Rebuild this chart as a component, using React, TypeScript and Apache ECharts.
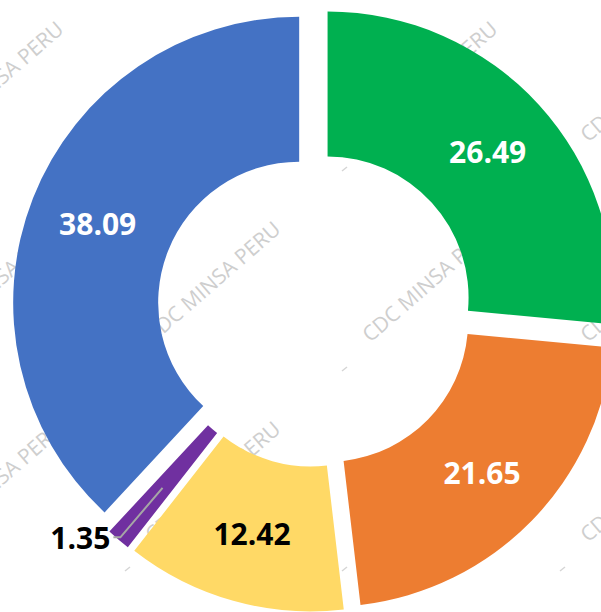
import React, { useEffect, useRef } from "react";
import * as echarts from "echarts";

const categories = ["Grupo A", "Grupo B", "Grupo C", "Grupo D", "Grupo E"];
const values = [26.49, 21.65, 12.42, 1.35, 38.09];
const colors = ["#00B050", "#ED7D31", "#FFD966", "#7030A0", "#4472C4"];
const labelColors = ["#ffffff", "#ffffff", "#000000", "#000000", "#ffffff"];
const outsideLabel = [false, false, false, true, false];
const watermarkText = "CDC MINSA PERU";

const CX = 315;
const CY = 309;
const R_IN = 141;
const R_OUT = 286;
const R_GUIDE = 218;
const OFFSET = 17;

export default function App() {
  const ref = useRef<HTMLDivElement>(null);
  useEffect(() => {
    if (!ref.current) return;
    const chart = echarts.init(ref.current, null, { renderer: "svg" });

    const wmStartsX = [-62, 155, 372, 590];
    const wmStartsY = [145, 345, 545];
    const wm: any[] = [];
    wmStartsY.forEach((y) => {
      wmStartsX.forEach((x) => {
        wm.push({
          type: "text",
          x,
          y,
          rotation: (41 * Math.PI) / 180,
          z: -10,
          style: {
            text: watermarkText,
            fill: "#cecece",
            font: "21px 'Open Sans'",
            textAlign: "left",
            textVerticalAlign: "bottom",
          },
        });
        wm.push({
          type: "line",
          z: -10,
          shape: { x1: x - 30, y1: y + 26, x2: x - 25, y2: y + 22 },
          style: { stroke: "#d5d5d5", lineWidth: 1.5 },
        });
      });
    });

    const labelFont = {
      fontFamily: "'Open Sans'",
      fontWeight: "bold" as const,
      fontSize: 30,
    };

    const mainData = categories.map((name, i) => ({
      name,
      value: values[i],
      selected: true,
      itemStyle: { color: colors[i] },
      label: {
        show: !outsideLabel[i],
        position: "inside",
        color: labelColors[i],
        offset: [0, 3],
      },
    }));

    // transparent companion ring carrying the outside label of the thin slice
    const guideData = categories.map((name, i) => ({
      name,
      value: values[i],
      selected: true,
      itemStyle: { color: "rgba(0,0,0,0)" },
      label: {
        show: outsideLabel[i],
        position: "outside",
        color: labelColors[i],
        offset: [0, 3],
      },
      labelLine: { show: outsideLabel[i] },
    }));

    chart.setOption({
      animation: false,
      backgroundColor: "#ffffff",
      graphic: wm,
      series: [
        {
          type: "pie",
          center: [CX, CY],
          radius: [R_IN, R_OUT],
          startAngle: 90,
          clockwise: true,
          selectedMode: "multiple",
          selectedOffset: OFFSET,
          avoidLabelOverlap: false,
          emphasis: { disabled: true },
          silent: true,
          label: {
            formatter: (p: any) => p.value.toFixed(2),
            ...labelFont,
          },
          labelLine: { show: false },
          data: mainData,
        },
        {
          type: "pie",
          z: 3,
          center: [CX, CY],
          radius: [R_IN, R_GUIDE],
          startAngle: 90,
          clockwise: true,
          selectedMode: "multiple",
          selectedOffset: OFFSET,
          avoidLabelOverlap: false,
          emphasis: { disabled: true },
          silent: true,
          label: {
            formatter: (p: any) => p.value.toFixed(2),
            distanceToLabelLine: 3,
            ...labelFont,
          },
          labelLine: {
            length: 65,
            length2: 7,
            lineStyle: { color: "#a6a6a6", width: 2 },
          },
          data: guideData,
        },
      ],
    });
    return () => chart.dispose();
  }, []);
  return (
    <div
      ref={ref}
      style={{ position: "absolute", left: 0, top: 0, width: 601, height: 612 }}
    />
  );
}
